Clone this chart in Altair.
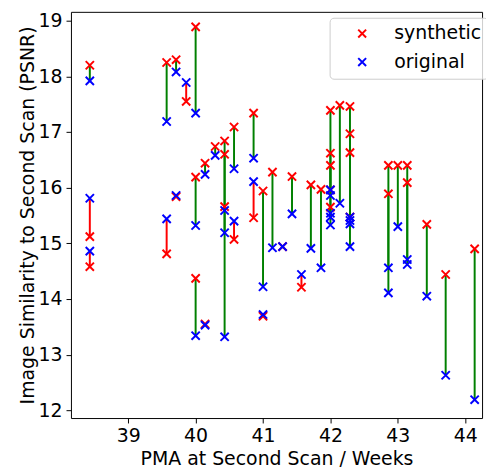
import altair as alt
import pandas as pd

# PMA at second scan (weeks) for each subject
pma = [38.43, 38.43, 38.43, 39.57, 39.57, 39.71, 39.71, 39.86, 40.00, 40.00,
       40.00, 40.14, 40.14, 40.29, 40.43, 40.43, 40.43, 40.57, 40.57, 40.86,
       40.86, 41.00, 41.00, 41.14, 41.29, 41.43, 41.57, 41.71, 41.86, 42.00,
       42.00, 42.00, 42.00, 42.00, 42.14, 42.29, 42.29, 42.29, 42.29, 42.86,
       42.86, 43.00, 43.14, 43.14, 43.43, 43.71, 44.14]
synthetic = [18.20, 15.12, 14.58, 18.25, 14.81, 18.30, 15.84, 17.55, 18.89, 16.19,
             14.37, 16.44, 13.55, 16.74, 16.84, 16.60, 15.66, 17.09, 15.07, 17.34,
             15.46, 15.94, 13.69, 16.28, 14.94, 16.20, 14.21, 16.05, 15.97, 17.39,
             16.62, 16.40, 15.65, 15.96, 17.48, 17.46, 16.97, 16.63, 15.47, 16.40,
             15.89, 16.40, 16.40, 16.09, 15.34, 14.44, 14.90]
original = [17.92, 15.81, 14.86, 17.19, 15.44, 18.08, 15.86, 17.89, 17.34, 15.32,
            13.34, 16.24, 13.53, 16.58, 13.32, 15.19, 15.59, 16.34, 15.40, 16.53,
            16.11, 14.22, 13.72, 14.92, 14.94, 15.53, 14.44, 14.91, 14.56, 15.33,
            15.47, 15.86, 15.54, 15.96, 15.72, 14.94, 15.35, 15.41, 15.47, 14.11,
            14.56, 15.30, 14.62, 14.71, 14.05, 12.63, 12.19]
series = ["synthetic", "original"]
x_ticks = [39, 40, 41, 42, 43, 44]
y_ticks = [12, 13, 14, 15, 16, 17, 18, 19]

n = len(pma)
pairs = pd.DataFrame({"pma": pma, "syn": synthetic, "orig": original})
points = pd.DataFrame({
    "pma": pma + pma,
    "value": synthetic + original,
    "type": [series[0]] * n + [series[1]] * n,
})

X_PATH = "M-1,-1L1,1M-1,1L1,-1"
FONT = "DejaVu Sans"
FS = 19.2

xs = alt.Scale(domain=[38.15, 44.25], nice=False, zero=False)
ys = alt.Scale(domain=[11.86, 19.16], nice=False, zero=False)

rules = alt.Chart(pairs).mark_rule(strokeWidth=2).encode(
    x=alt.X("pma:Q", scale=xs,
            axis=alt.Axis(values=x_ticks, format="d", title="PMA at Second Scan / Weeks")),
    y=alt.Y("syn:Q", scale=ys,
            axis=alt.Axis(values=y_ticks, format="d", titlePadding=1,
                          title="Image Similarity to Second Scan (PSNR)")),
    y2="orig:Q",
    color=alt.condition("datum.syn >= datum.orig", alt.value("green"), alt.value("red")),
)

pts = alt.Chart(points).mark_point(
    shape=X_PATH, filled=False, size=70, strokeWidth=2, opacity=1
).encode(
    x=alt.X("pma:Q", scale=xs),
    y=alt.Y("value:Q", scale=ys),
    color=alt.Color(
        "type:N",
        scale=alt.Scale(domain=series, range=["red", "blue"]),
        legend=alt.Legend(
            title=None, orient="none", legendX=263, legendY=6,
            fillColor="rgba(255,255,255,0.8)", strokeColor="#cccccc",
            cornerRadius=4, padding=6.5, symbolOffset=17, labelOffset=23,
            rowPadding=9, labelFontSize=FS, labelFont=FONT, labelColor="black",
            symbolSize=64, symbolStrokeWidth=2, symbolType=X_PATH,
        ),
    ),
)

chart = alt.layer(rules, pts).properties(
    width=418, height=413,
    autosize=alt.AutoSizeParams(type="none"),
    padding={"left": 64, "top": 0, "right": 4, "bottom": 55},
).configure_view(stroke="black", strokeWidth=1).configure_axis(
    grid=False, domain=False, tickColor="black", tickSize=5, tickWidth=1,
    labelFont=FONT, labelFontSize=FS, labelColor="black", labelPadding=4,
    titleFont=FONT, titleFontSize=FS, titleFontWeight="normal", titleColor="black",
)

chart.save("out.html", embed_options={"renderer": "svg", "actions": False})
